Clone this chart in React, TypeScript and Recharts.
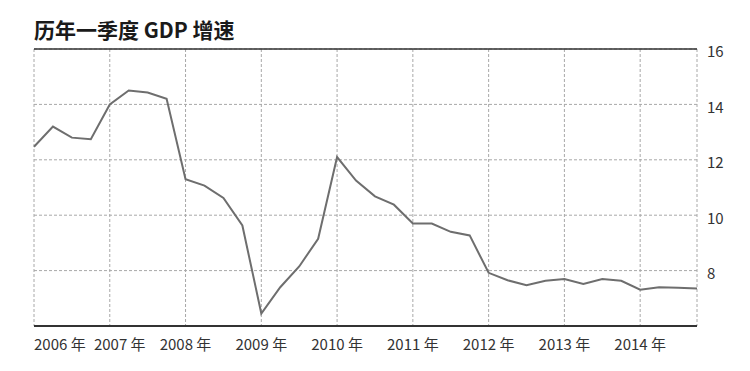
import React from "react";
import {
  CartesianGrid,
  Line,
  LineChart,
  ReferenceLine,
  XAxis,
  YAxis,
} from "recharts";

const years = ["2006", "2007", "2008", "2009", "2010", "2011", "2012", "2013", "2014"];
const growth = [
  12.47, 13.2, 12.8, 12.74,
  14.0, 14.5, 14.43, 14.2,
  11.3, 11.07, 10.62, 9.63,
  6.45, 7.4, 8.15, 9.15,
  12.1, 11.25, 10.68, 10.38,
  9.7, 9.7, 9.4, 9.27,
  7.92, 7.65, 7.47, 7.63,
  7.7, 7.52, 7.7, 7.63,
  7.31, 7.4, 7.38, 7.35,
];
const yTicks = [8, 10, 12, 14, 16];

const data = growth.map((v, i) => ({ t: i, value: v }));
const xTicks = [...years.map((_, i) => i * 4), growth.length - 1];

const FONT = '"Noto Sans CJK SC", "Noto Sans", sans-serif';

function YearTick(props: any) {
  const { x, y, payload, index } = props;
  const year = years[payload.value / 4];
  if (!year) return null;
  // first two labels are nudged so the first one is not clipped
  const anchor = index === 0 ? "start" : "middle";
  const dx = index === 1 ? 10 : 0;
  return (
    <text
      x={x + dx}
      y={y}
      dy="0.71em"
      textAnchor={anchor}
      fill="#333"
      fontSize={15}
      fontFamily={FONT}
    >
      {`${year} 年`}
    </text>
  );
}

function ValueTick(props: any) {
  const { x, y, payload } = props;
  return (
    <text x={x} y={y + 3} dy="0.355em" textAnchor="start" fill="#333" fontSize={15} fontFamily={FONT}>
      {payload.value}
    </text>
  );
}

export default function App() {
  return (
    <div style={{ position: "relative", width: 750, height: 371, margin: -8, background: "#fff" }}>
      <div
        style={{
          position: "absolute",
          left: 34,
          top: 19,
          fontSize: 21,
          lineHeight: "21px",
          fontWeight: 700,
          fontFamily: FONT,
          color: "#1a1a1a",
        }}
      >
        历年一季度 GDP 增速
      </div>
      <LineChart
        width={750}
        height={371}
        data={data}
        margin={{ top: 49, right: 0, left: 34, bottom: 0 }}
      >
        <CartesianGrid stroke="#a8a8a8" strokeDasharray="3 2" />
        <XAxis
          dataKey="t"
          type="number"
          domain={[0, growth.length - 1]}
          ticks={xTicks}
          interval={0}
          height={45}
          axisLine={{ stroke: "#333", strokeWidth: 2 }}
          tickLine={false}
          tickMargin={7}
          tick={<YearTick />}
        />
        <YAxis
          orientation="right"
          domain={[6, 16]}
          ticks={yTicks}
          width={53}
          axisLine={false}
          tickLine={false}
          tickMargin={4}
          tick={<ValueTick />}
        />
        <ReferenceLine y={16} stroke="#333" strokeWidth={1.5} />
        <Line
          type="linear"
          dataKey="value"
          stroke="#6e6e6e"
          strokeWidth={2}
          dot={false}
          isAnimationActive={false}
        />
      </LineChart>
    </div>
  );
}
